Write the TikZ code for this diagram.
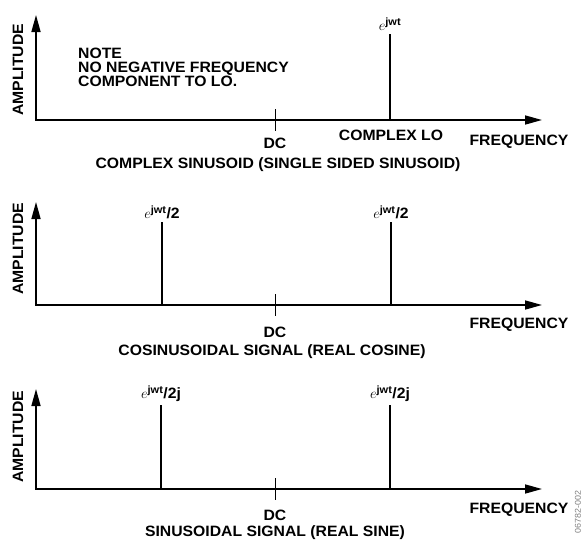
\documentclass[tikz,border=0pt]{standalone}
\usepackage{fontspec}
\setmainfont[FakeStretch=1.05]{Liberation Sans}
\usetikzlibrary{positioning, arrows.meta}

\newcommand{\expjwt}{$e$\textsuperscript{jwt}}

\begin{document}
\begin{tikzpicture}[x=1pt, y=-1pt,
        axes/.style = {line width=1.6pt, {Triangle[length=17pt,width=9pt]}-{Triangle[length=17pt,width=9pt]}},
        spike/.style = {line width=2.4pt},
        dctick/.style = {line width=0.9pt},
        lbl/.style = {font=\fontsize{15}{14}\selectfont\bfseries, inner sep=0pt},
        ]
        \useasboundingbox (0,0) rectangle (584,541);

        % complex sinusoid
        \coordinate (o1) at (36,120);
        \coordinate (y1) at (36,15);
        \coordinate (x1) at (542,120);
        \coordinate (dc1) at (275,120);
        \coordinate (lo1) at (390,120);
        \coordinate (lo1t) at (390,34);
        \draw[axes] (y1) -- (o1) -- (x1);
        \draw[dctick] ([yshift=11pt]dc1) -- ([yshift=-11pt]dc1);
        \draw[spike] (lo1) -- (lo1t);
        \node[lbl, above=3pt of lo1t] (e1) {\expjwt};
        \node[lbl, rotate=90] (amp1) at (18,70) {AMPLITUDE};
        \node[lbl, align=left, anchor=north west] (note) at (78,48) {NOTE\\NO NEGATIVE FREQUENCY\\COMPONENT TO LO.};
        \node[lbl] (dc1l) at (275,143) {DC};
        \node[lbl] (lo1l) at (391,135) {COMPLEX LO};
        \node[lbl] (f1) at (519,142) {FREQUENCY};
        \node[lbl] (t1) at (278,165) {COMPLEX SINUSOID (SINGLE SIDED SINUSOID)};

        % real cosine
        \coordinate (o2) at (36,305);
        \coordinate (y2) at (36,202);
        \coordinate (x2) at (542,305);
        \coordinate (dc2) at (275,305);
        \coordinate (n2) at (162,305);
        \coordinate (n2t) at (162,222);
        \coordinate (p2) at (391,305);
        \coordinate (p2t) at (391,222);
        \draw[axes] (y2) -- (o2) -- (x2);
        \draw[dctick] ([yshift=11pt]dc2) -- ([yshift=-11pt]dc2);
        \draw[spike] (n2) -- (n2t);
        \draw[spike] (p2) -- (p2t);
        \node[lbl, above=3pt of n2t] (e2n) {\expjwt/2};
        \node[lbl, above=3pt of p2t] (e2p) {\expjwt/2};
        \node[lbl, rotate=90] (amp2) at (18,249) {AMPLITUDE};
        \node[lbl] (dc2l) at (275,332) {DC};
        \node[lbl] (f2) at (519,325) {FREQUENCY};
        \node[lbl] (t2) at (272,352) {COSINUSOIDAL SIGNAL (REAL COSINE)};

        % real sine
        \coordinate (o3) at (36,489);
        \coordinate (y3) at (36,389);
        \coordinate (x3) at (542,489);
        \coordinate (dc3) at (275,489);
        \coordinate (n3) at (161,489);
        \coordinate (n3t) at (161,405);
        \coordinate (p3) at (390,489);
        \coordinate (p3t) at (390,405);
        \draw[axes] (y3) -- (o3) -- (x3);
        \draw[dctick] ([yshift=11pt]dc3) -- ([yshift=-11pt]dc3);
        \draw[spike] (n3) -- (n3t);
        \draw[spike] (p3) -- (p3t);
        \node[lbl, above=3pt of n3t] (e3n) {\expjwt/2j};
        \node[lbl, above=3pt of p3t] (e3p) {\expjwt/2j};
        \node[lbl, rotate=90] (amp3) at (18,437) {AMPLITUDE};
        \node[lbl] (dc3l) at (275,515) {DC};
        \node[lbl] (f3) at (519,510) {FREQUENCY};
        \node[lbl] (t3) at (275,533) {SINUSOIDAL SIGNAL (REAL SINE)};

        \node[rotate=90, gray, font=\fontsize{8.5}{10}\selectfont, inner sep=0pt] (fig) at (578,512) {06782-002};
\end{tikzpicture}
\end{document}
